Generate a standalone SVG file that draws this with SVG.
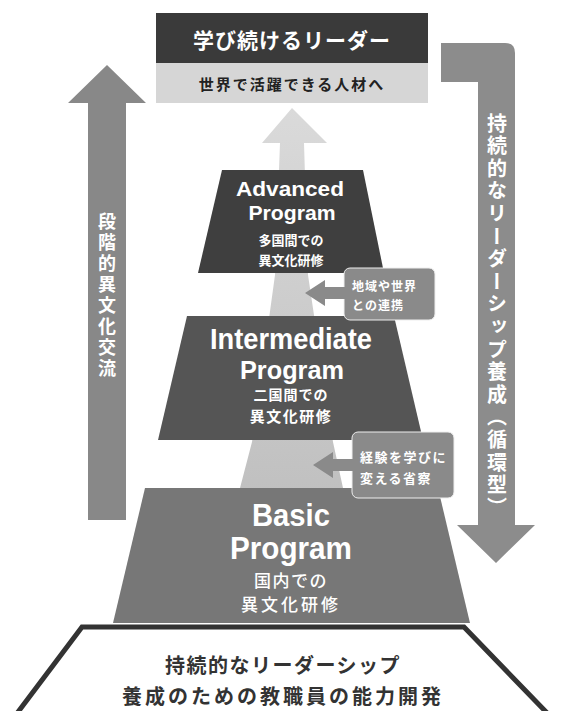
<svg xmlns="http://www.w3.org/2000/svg" width="562" height="711" viewBox="0 0 562 711">
<defs>
<linearGradient id="lg" x1="0" y1="0" x2="0" y2="1">
<stop offset="0" stop-color="#dadada"/>
<stop offset="1" stop-color="#b9b9b9"/>
</linearGradient>
<style>
.jp{font-family:"Noto Sans CJK JP","Noto Sans CJK SC",sans-serif;font-weight:bold;}
.en{font-family:"Liberation Sans",Arial,sans-serif;font-weight:bold;fill:#fff;}
.w{fill:#fff;}
.c{text-anchor:middle;}
.call{fill:#8a8a8a;}
.vert{writing-mode:vertical-rl;}
</style>
</defs>
<rect width="562" height="711" fill="#fff"/>
<g id="connectors">
<polygon id="center-arrow" points="292,108 327,143 304,143 308,275 333,442 343,488 345,600 238,600 240,488 252,442 275,275 280,143 262,143" fill="url(#lg)"/>
<g id="left-arrow">
<polygon points="107,65 146,103 126,103 126,520 88,520 88,103 68,103" fill="#888"/>
<text class="jp w vert" x="107" y="212" font-size="18" letter-spacing="3">段階的異文化交流</text>
</g>
<g id="right-arrow">
<path d="M441,43 H505 Q515,43 515,53 V525 H535 L496,563 L457,525 H478 V82 H441 Z" fill="#8c8c8c"/>
<text class="jp w vert" x="497" y="113" font-size="20" letter-spacing="2.6">持続的なリーダーシップ養成（循環型）</text>
</g>
</g>
<g id="top-box">
<rect x="156" y="13" width="272" height="50" fill="#3a3a3a"/>
<rect x="156" y="63" width="272" height="40" fill="#d6d6d6"/>
<text class="jp w c" x="292" y="48" font-size="21" letter-spacing="1">学び続けるリーダー</text>
<text class="jp c" x="292" y="90" font-size="15" letter-spacing="2" fill="#222">世界で活躍できる人材へ</text>
</g>
<g id="advanced">
<polygon points="222,170 363,170 384,273 198,273" fill="#3f3f3f"/>
<text class="en c" x="290" y="196" font-size="20" textLength="108" lengthAdjust="spacingAndGlyphs">Advanced</text>
<text class="en c" x="292" y="220" font-size="20" textLength="87" lengthAdjust="spacingAndGlyphs">Program</text>
<text class="jp w c" x="291" y="245" font-size="13">多国間での</text>
<text class="jp w c" x="291" y="265" font-size="13">異文化研修</text>
</g>
<g id="intermediate">
<polygon points="187,316 394,316 423,440 158,440" fill="#555"/>
<text class="en c" x="291" y="349" font-size="29" textLength="162" lengthAdjust="spacingAndGlyphs">Intermediate</text>
<text class="en c" x="292" y="379" font-size="26" textLength="104" lengthAdjust="spacingAndGlyphs">Program</text>
<text class="jp w c" x="291" y="400" font-size="14" letter-spacing="1">二国間での</text>
<text class="jp w c" x="291" y="422" font-size="15" letter-spacing="1.5">異文化研修</text>
</g>
<g id="basic">
<polygon points="145,488 438,488 470,623 113,623" fill="#777"/>
<text class="en c" x="291" y="526" font-size="31" textLength="78" lengthAdjust="spacingAndGlyphs">Basic</text>
<text class="en c" x="291" y="559" font-size="31" textLength="122" lengthAdjust="spacingAndGlyphs">Program</text>
<text class="jp w c" x="291" y="587" font-size="17" style="font-weight:500" letter-spacing="1.5">国内での</text>
<text class="jp w c" x="291" y="611" font-size="17" style="font-weight:500" letter-spacing="3">異文化研修</text>
</g>
<g id="callout-1">
<rect class="call" x="344" y="268" width="91" height="52" rx="6" stroke="#eee" stroke-width="1"/>
<polygon class="call" points="305,293 325,280 325,287 345,287 345,299 325,299 325,306"/>
<text class="jp w" x="352" y="291" font-size="12" letter-spacing="1">地域や世界</text>
<text class="jp w" x="352" y="310" font-size="12" letter-spacing="1">との連携</text>
</g>
<g id="callout-2">
<rect class="call" x="352" y="432" width="102" height="66" rx="6" stroke="#eee" stroke-width="1"/>
<polygon class="call" points="313,465 333,452 333,459 353,459 353,471 333,471 333,478"/>
<text class="jp w" x="360" y="462" font-size="13" letter-spacing="1.5">経験を学びに</text>
<text class="jp w" x="360" y="483" font-size="13" letter-spacing="1.5">変える省察</text>
</g>
<g id="foundation">
<polygon points="15,716 82,627 464,627 550,716" fill="#fff" stroke="#333" stroke-width="5" stroke-linejoin="miter"/>
<text class="jp c" x="283" y="673" font-size="20" letter-spacing="1.5" fill="#333">持続的なリーダーシップ</text>
<text class="jp c" x="283" y="704" font-size="20" letter-spacing="3" fill="#333">養成のための教職員の能力開発</text>
</g>
</svg>
